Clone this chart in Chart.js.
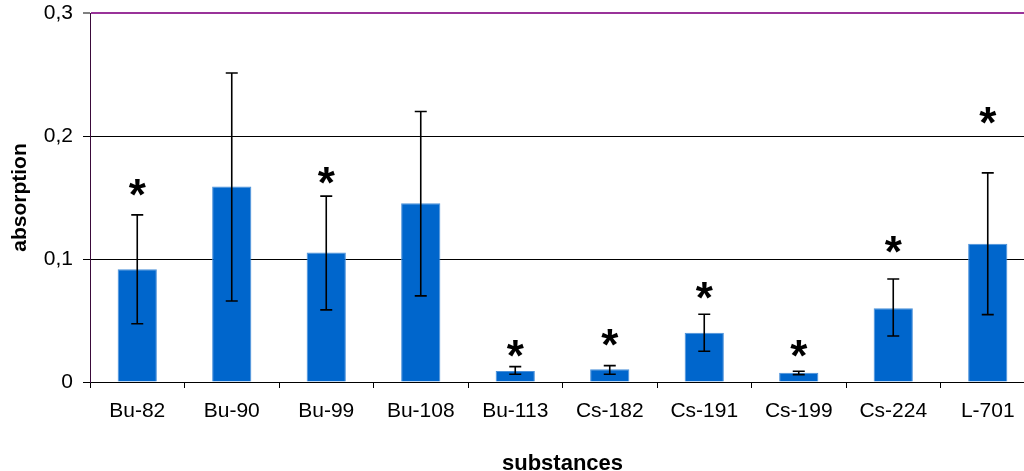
<!DOCTYPE html>
<html>
<head>
<meta charset="utf-8">
<script src="https://cdn.jsdelivr.net/npm/chart.js@4/dist/chart.umd.min.js"></script>
<style>
html, body { margin:0; padding:0; background:#fff; overflow:hidden; }
#wrap { width:1045px; height:480px; }
</style>
</head>
<body>
<div id="wrap"><canvas id="c" width="1045" height="480"></canvas></div>
<script>
// data
const substances = ['Bu-82','Bu-90','Bu-99','Bu-108','Bu-113','Cs-182','Cs-191','Cs-199','Cs-224','L-701'];
const absorption = [0.0917,0.1589,0.1052,0.1454,0.0090,0.0103,0.0401,0.0076,0.0600,0.1125];
const errPlus  = [0.0442,0.0923,0.0459,0.0745,0.0035,0.0030,0.0150,0.0011,0.0238,0.0575];
const errMinus = [0.0443,0.0930,0.0466,0.0754,0.0027,0.0040,0.0151,0.0016,0.0226,0.0577];
// level of the significance star above each bar (null = no star)
const starLevel = [0.1583,null,0.1680,null,0.0269,0.0362,0.0745,0.0269,0.1115,0.2165];
const yTickLabels = ['0','0,1','0,2','0,3'];

const FONT = '"Liberation Sans", Arial, sans-serif';

const errorBars = {
  id: 'errorBars',
  afterDatasetsDraw(chart){
    const ctx = chart.ctx, y = chart.scales.y, meta = chart.getDatasetMeta(0);
    ctx.save();
    ctx.strokeStyle = '#000';
    ctx.lineWidth = 1.6;
    meta.data.forEach((bar, i)=>{
      const x = bar.x;
      const top = y.getPixelForValue(absorption[i] + errPlus[i]);
      const bot = y.getPixelForValue(absorption[i] - errMinus[i]);
      ctx.beginPath();
      ctx.moveTo(x, top); ctx.lineTo(x, bot);
      ctx.moveTo(x-6, top); ctx.lineTo(x+6, top);
      ctx.moveTo(x-6, bot); ctx.lineTo(x+6, bot);
      ctx.stroke();
    });
    ctx.fillStyle = '#000';
    ctx.font = 'bold 44px ' + FONT;
    ctx.textAlign = 'center';
    ctx.textBaseline = 'alphabetic';
    const m = ctx.measureText('*');
    const off = (m.actualBoundingBoxAscent - m.actualBoundingBoxDescent)/2;
    starLevel.forEach((v, i)=>{
      if(v == null) return;
      ctx.fillText('*', meta.data[i].x, y.getPixelForValue(v) + off);
    });
    ctx.restore();
  }
};

new Chart(document.getElementById('c').getContext('2d'), {
  type: 'bar',
  data: {
    labels: substances,
    datasets: [{
      label: 'absorption',
      data: absorption,
      backgroundColor: '#0066CC',
      borderColor: '#4a90d9',
      borderWidth: 1,
      barPercentage: 0.83,
      categoryPercentage: 0.5
    }]
  },
  options: {
    responsive: false,
    animation: false,
    devicePixelRatio: 1,
    layout: { padding: { top: 13, right: 10, bottom: 0, left: 0 } },
    plugins: { legend: { display: false }, tooltip: { enabled: false } },
    scales: {
      x: {
        afterFit(s){ s.height = 98; s.paddingLeft = 0; s.paddingRight = 0; },
        grid: { offset: true, drawOnChartArea: false, tickLength: 6, color: '#000', lineWidth: 1 },
        border: { color: '#000', width: 1 },
        ticks: { color: '#000', font: { family: FONT, size: 21 }, padding: 11, maxRotation: 0, autoSkip: false },
        title: { display: true, text: 'substances', color: '#000', font: { family: FONT, size: 22, weight: 'bold' }, padding: { top: 0, bottom: 3 } }
      },
      y: {
        min: 0, max: 0.3,
        afterFit(s){ s.width = 90; s.paddingTop = 0; s.paddingBottom = 0; },
        grid: {
          color: c => c.tick && Math.abs(c.tick.value - 0.3) < 1e-9 ? '#993399' : '#000',
          lineWidth: c => c.tick && Math.abs(c.tick.value - 0.3) < 1e-9 ? 2 : 1,
          tickColor: '#000', tickWidth: 1, tickLength: 7
        },
        border: { color: '#3a0a3a', width: 1 },
        ticks: {
          stepSize: 0.1,
          color: '#000',
          font: { family: FONT, size: 21 },
          padding: 10,
          callback: (v, i) => yTickLabels[i]
        },
        title: { display: true, text: 'absorption', color: '#000', font: { family: FONT, size: 21, weight: 'bold' }, padding: { top: 8, bottom: 0 } }
      }
    }
  },
  plugins: [errorBars]
});
</script>
</body>
</html>
